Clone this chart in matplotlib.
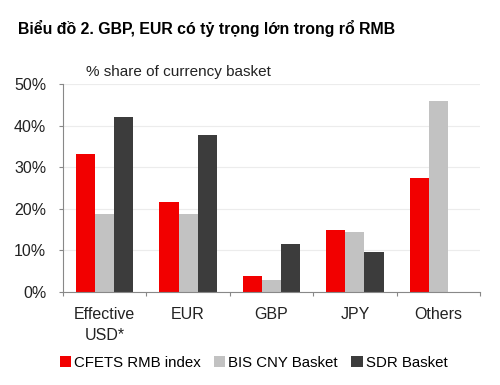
import matplotlib.pyplot as plt
import numpy as np

plt.rcParams['font.family'] = ['Liberation Sans', 'DejaVu Sans']

categories = ['Effective\nUSD*', 'EUR', 'GBP', 'JPY', 'Others']
cfets = [33.2, 21.6, 3.9, 14.8, 27.3]
bis = [18.7, 18.7, 2.9, 14.3, 45.9]
sdr = [42.1, 37.7, 11.5, 9.6, 0]
series_names = ['CFETS RMB index', 'BIS CNY Basket', 'SDR Basket']
colors = ['#f20000', '#c2c2c2', '#3c3c3c']

fig = plt.figure(figsize=(5, 3.85), dpi=100)
ax = fig.add_axes([0.126, 0.242, 0.834, 0.54])

x = np.arange(len(categories))
w = 0.23
for i, (vals, name, c) in enumerate(zip([cfets, bis, sdr], series_names, colors)):
    ax.bar(x + (i - 1) * w, vals, w, color=c, label=name, zorder=2)

ax.set_xlim(-0.5, len(categories) - 0.5)
ax.set_ylim(0, 50)
ax.set_yticks(np.arange(0, 51, 10))
ax.set_yticklabels([f'{v}%' for v in range(0, 51, 10)], fontsize=11.5, color='#222222')
ax.yaxis.grid(True, color='#ececec', lw=0.8, zorder=0)

# category labels centred, ticks at boundaries
ax.set_xticks(np.arange(-0.5, len(categories)), minor=False)
ax.set_xticklabels([])
ax.set_xticks(x, minor=True)
ax.set_xticklabels(categories, minor=True, fontsize=11.5, color='#222222', linespacing=1.5)
ax.tick_params(axis='x', which='minor', length=0, pad=11)
ax.tick_params(axis='x', which='major', length=3, color='#888888', direction='out')
ax.tick_params(axis='y', length=3, color='#888888', pad=9)

for s in ['top', 'right']:
    ax.spines[s].set_visible(False)
for s in ['left', 'bottom']:
    ax.spines[s].set_color('#888888')
    ax.spines[s].set_linewidth(0.8)

fig.text(0.036, 0.925, 'Biểu đồ 2. GBP, EUR có tỷ trọng lớn trong rổ RMB',
         fontsize=11.4, fontweight='bold', va='center')
fig.text(0.172, 0.812, '% share of currency basket', fontsize=11, color='#222222', va='center')

fig.legend(loc='center', bbox_to_anchor=(0.507, 0.057), ncol=3, frameon=False,
           fontsize=10.8, handlelength=0.75, handleheight=0.75, handletextpad=0.2,
           columnspacing=0.9)

fig.savefig('out.png', dpi=100)
